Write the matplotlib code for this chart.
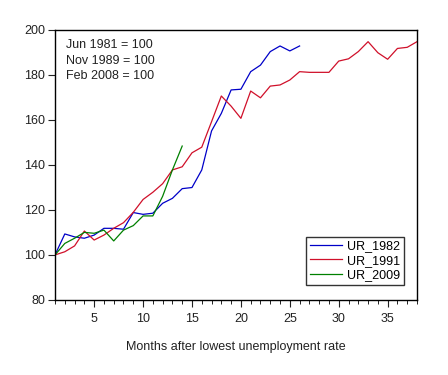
import matplotlib
matplotlib.use("Agg")
import matplotlib.pyplot as plt
from matplotlib.ticker import MultipleLocator

plt.rcParams['font.family'] = ['Liberation Sans', 'DejaVu Sans']

# index values, month 1 = 100
ur_1982 = [100, 109.3, 108, 107.4, 108.8, 111.8, 111.8, 111.4, 118.8, 118, 118.5,
           122.9, 125.1, 129.4, 129.9, 137.7, 155, 162.8, 173.2, 173.5, 181.3,
           184.2, 190.2, 192.7, 190.5, 192.7]
ur_1991 = [100, 101.4, 104, 110.6, 106.6, 108.8, 111.8, 114.3, 118.9, 124.6, 127.8,
           131.6, 137.7, 139.1, 145.3, 147.8, 159.1, 170.5, 166, 160.6, 172.7,
           169.7, 174.9, 175.4, 177.6, 181.3, 181, 181, 181, 186, 187, 190.2,
           194.6, 189.7, 186.8, 191.6, 192.1, 194.6]
ur_2009 = [100, 105.1, 107.4, 110, 109.6, 111, 106.2, 111, 113, 117.3, 117.3,
           126, 137.7, 148.3]

months_1982 = list(range(1, len(ur_1982) + 1))
months_1991 = list(range(1, len(ur_1991) + 1))
months_2009 = list(range(1, len(ur_2009) + 1))

fig = plt.figure(figsize=(4.48, 3.75), dpi=100)
ax = fig.add_axes([0.1228, 0.2, 0.808, 0.7213])

ax.plot(months_1982, ur_1982, color="#0000c8", lw=0.9, label="UR_1982")
ax.plot(months_1991, ur_1991, color="#d0102a", lw=0.9, label="UR_1991")
ax.plot(months_2009, ur_2009, color="#008000", lw=0.9, label="UR_2009")

ax.set_xlim(1, 38)
ax.set_ylim(80, 200)
ax.xaxis.set_major_locator(MultipleLocator(5))
ax.xaxis.set_minor_locator(MultipleLocator(1))
ax.yaxis.set_major_locator(MultipleLocator(20))
ax.tick_params(axis="both", direction="out", labelsize=9, colors="#222222")
ax.tick_params(axis="x", which="major", length=5, pad=4)
ax.tick_params(axis="x", which="minor", length=3)
ax.tick_params(axis="y", length=5, pad=2)
for s in ax.spines.values():
    s.set_linewidth(1.0)

ax.set_xlabel("Months after lowest unemployment rate", fontsize=9,
              color="#222222", labelpad=12)

ax.text(0.03, 0.965, "Jun 1981 = 100\nNov 1989 = 100\nFeb 2008 = 100",
        transform=ax.transAxes, ha="left", va="top", fontsize=9,
        color="#222222", linespacing=1.4)

leg = ax.legend(loc="lower right", bbox_to_anchor=(0.965, 0.055), fontsize=9,
                frameon=True, fancybox=False, edgecolor="black",
                handlelength=2.6, handletextpad=0.4, borderpad=0.3,
                labelspacing=0.2, borderaxespad=0)
leg.get_frame().set_linewidth(1.0)

fig.savefig("out.png", dpi=100)
